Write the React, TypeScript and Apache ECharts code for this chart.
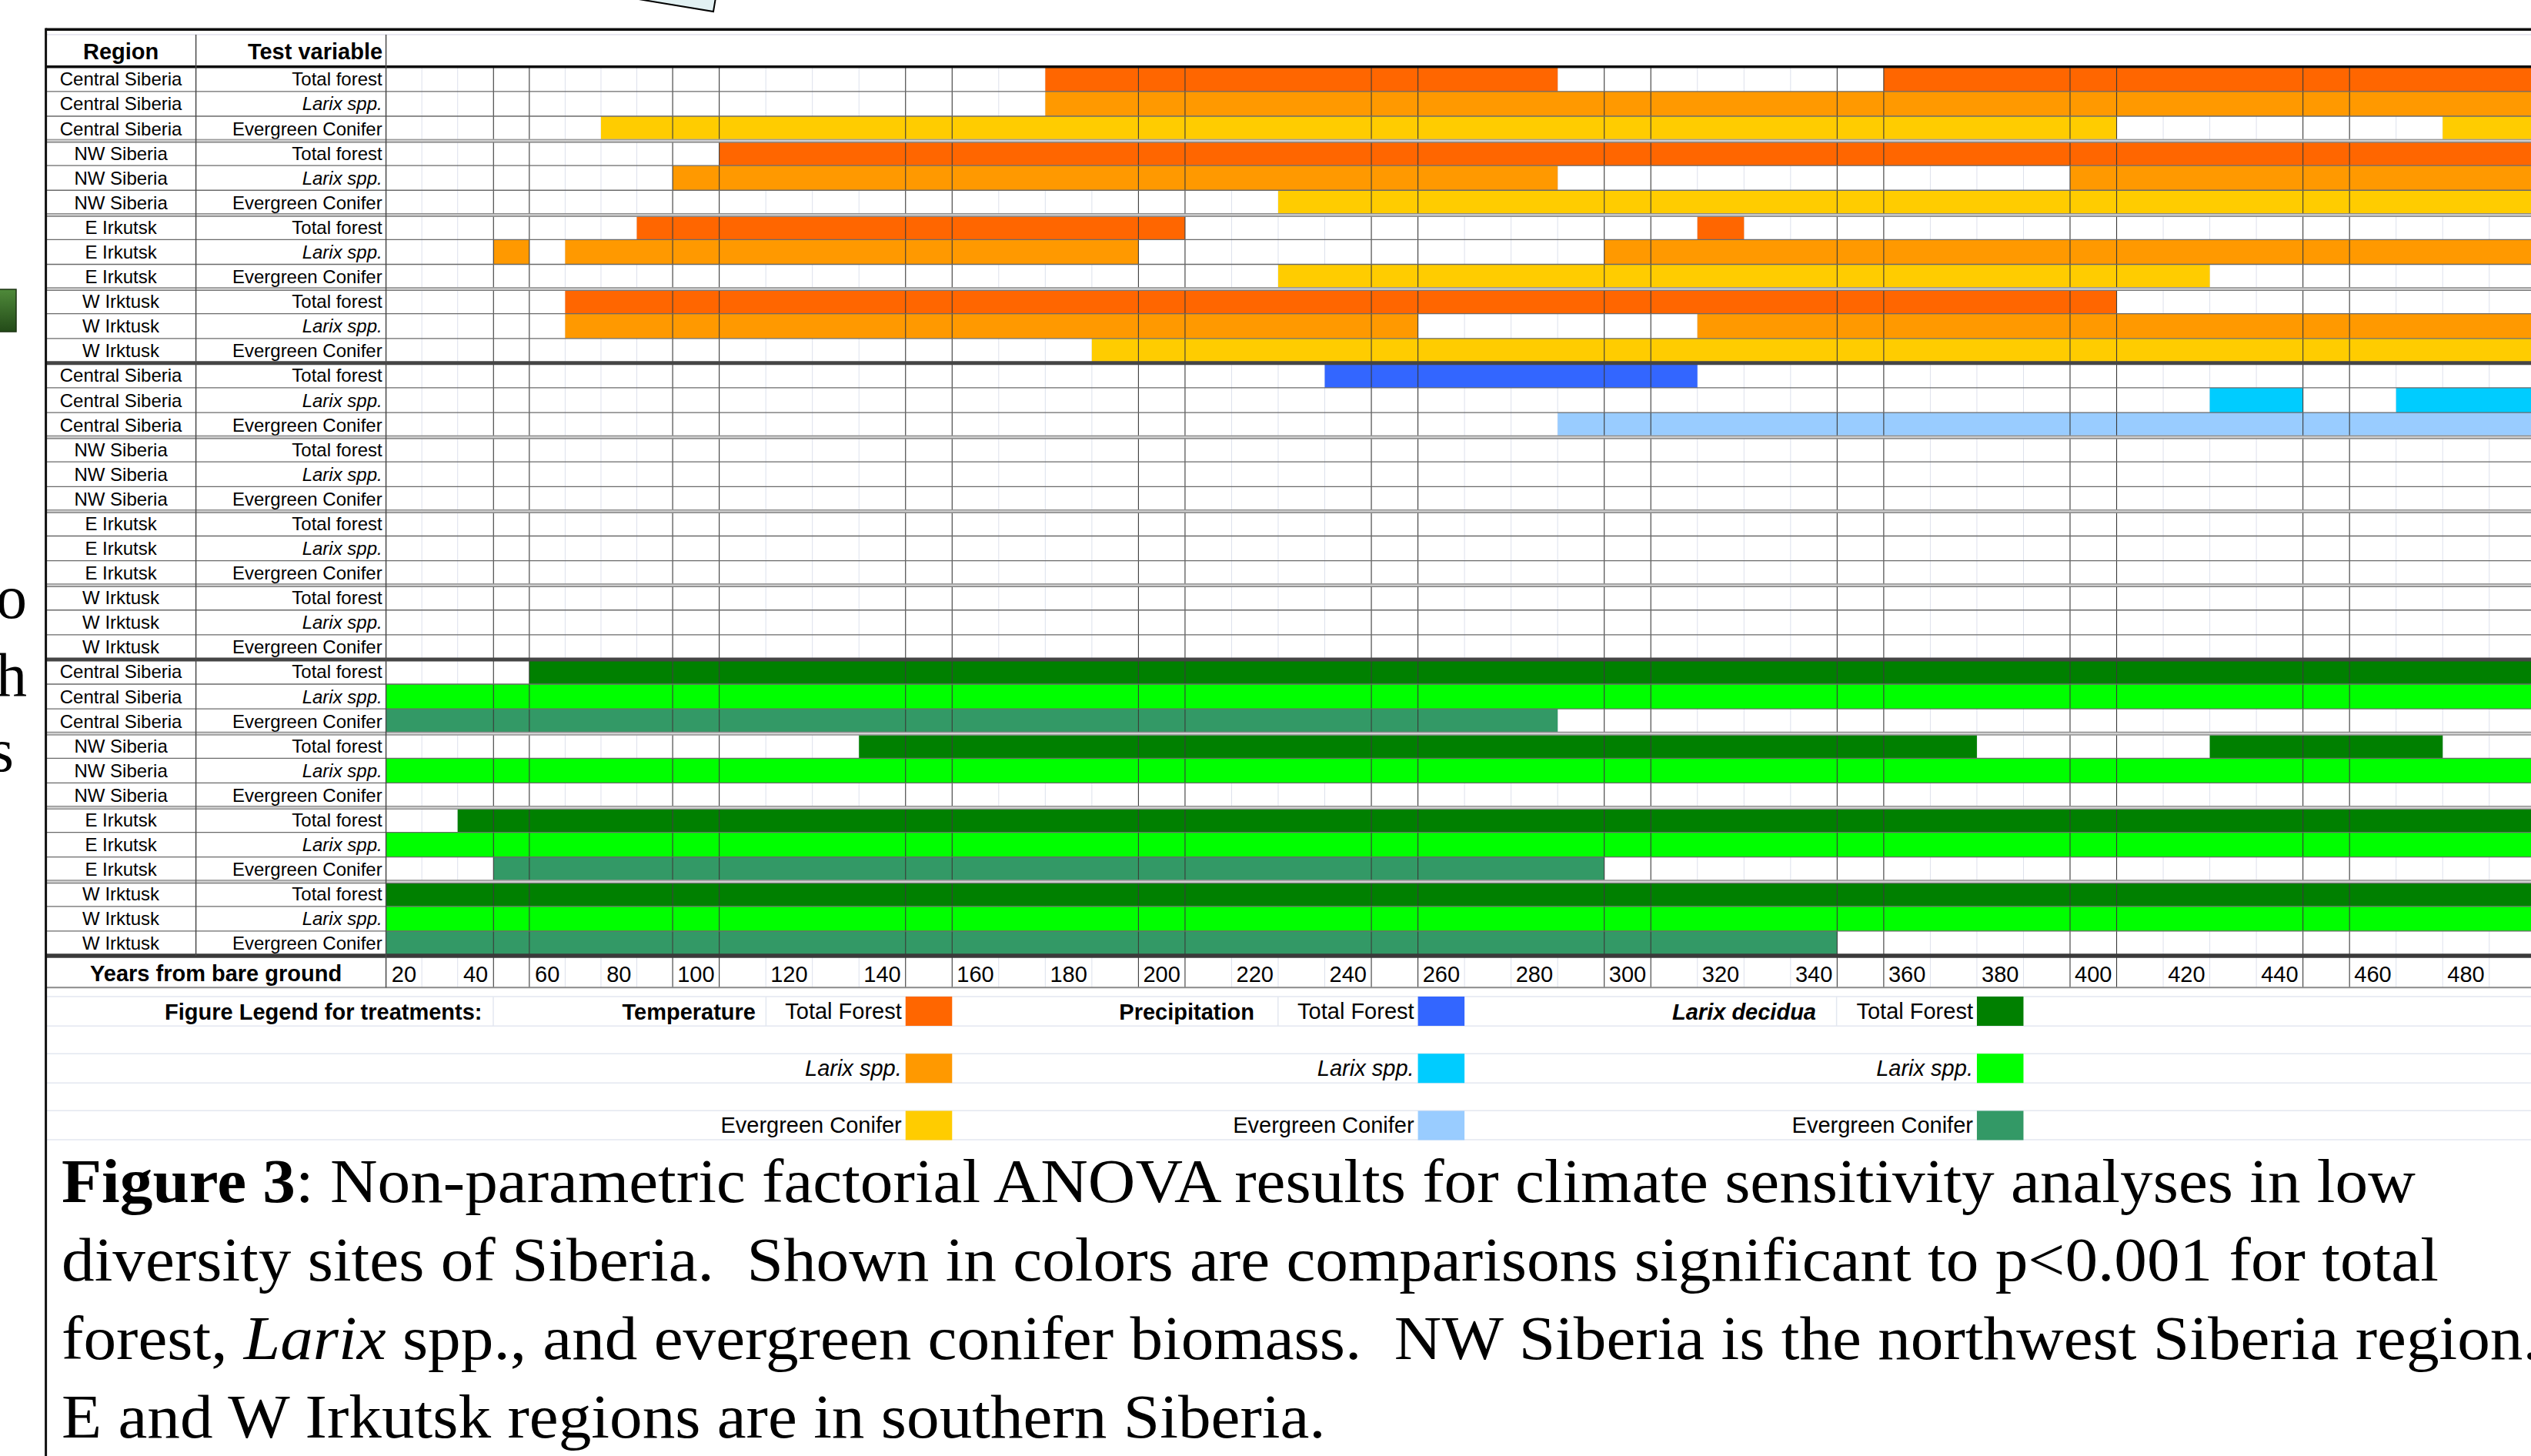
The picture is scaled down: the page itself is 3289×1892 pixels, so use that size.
import React, { useEffect, useRef } from 'react';
import * as echarts from 'echarts';

// ---------------- data ----------------
const yearsEarly = ['20', '30', '40', '50', '60', '70', '80', '90'];
const yearsLate = [
  '100', '110', '120', '130', '140', '150', '160', '170', '180', '190',
  '200', '210', '220', '230', '240', '250', '260', '270', '280', '290',
  '300', '310', '320', '330', '340', '350', '360', '370', '380', '390',
  '400', '410', '420', '430', '440', '450', '460', '470', '480', '490',
];
const regions = ['Central Siberia', 'NW Siberia', 'E Irkutsk', 'W Irktusk'];
const testVariables = ['Total forest', 'Larix spp.', 'Evergreen Conifer'];
const treatments = ['Temperature', 'Precipitation', 'Larix decidua'];
const legendVariables = ['Total Forest', 'Larix spp.', 'Evergreen Conifer'];

// significant (p<0.001) year spans [first, last] per region x test-variable row
const temperatureSpans = [
  [[180, 280], [360, 490]],
  [[180, 490]],
  [[80, 400], [480, 490]],
  [[110, 490]],
  [[100, 280], [400, 490]],
  [[230, 490]],
  [[90, 200], [320, 320]],
  [[50, 50], [70, 190], [300, 490]],
  [[230, 420]],
  [[70, 400]],
  [[70, 250], [320, 490]],
  [[190, 490]],
];
const precipitationSpans = [
  [[240, 310]],
  [[430, 440], [470, 490]],
  [[290, 490]],
  [], [], [],
  [], [], [],
  [], [], [],
];
const larixDeciduaSpans = [
  [[60, 490]],
  [[20, 490]],
  [[20, 280]],
  [[140, 370], [430, 470]],
  [[20, 490]],
  [],
  [[40, 490]],
  [[20, 490]],
  [[50, 290]],
  [[20, 490]],
  [[20, 490]],
  [[20, 340]],
];

const palette = [
  ['#ff6600', '#ff9900', '#ffcc00'],
  ['#3366ff', '#00ccff', '#99ccff'],
  ['#008000', '#00ff00', '#339966'],
];

// ---------------- layout ----------------
const W = 3289;
const H = 1892;
const SANS = 'Liberation Sans, Arial, sans-serif';
const SERIF = 'Liberation Serif, Times New Roman, serif';
const TABLE_L = 59.6;
const REGION_DIV = 254.6;
const DATA_L = 501.6;
const COL1_W = 46.5625;
const COL2_W = 60.53;
const GRID2_L = DATA_L + yearsEarly.length * COL1_W;
const GRID_TOP = 86.8;
const GRID_H = 1155.2;
const YEAR_ROW_H = 41.3;
const CAPTION_SCALE_X = 1.066;

function buildOption(): any {
  const spansByTreatment = [temperatureSpans, precipitationSpans, larixDeciduaSpans];
  const rowKeys: string[] = [];
  treatments.forEach((t) =>
    regions.forEach((r) => testVariables.forEach((v) => rowKeys.push(`${t}|${r}|${v}`)))
  );
  const seriesName = (ti: number, vi: number) => `${treatments[ti]}: ${legendVariables[vi]}`;

  const renderSpan = (params: any, api: any) => {
    const s = api.value(0);
    const e = api.value(1);
    const row = api.value(2);
    const p0 = api.coord([s, row]);
    const p1 = api.coord([e, row]);
    const size = api.size([1, 1]);
    return {
      type: 'rect',
      shape: { x: p0[0] - size[0] / 2, y: p0[1] - size[1] / 2, width: p1[0] - p0[0] + size[0], height: size[1] },
      style: { fill: api.visual('color') },
    };
  };

  const cellSeries: any[] = [];
  treatments.forEach((t, ti) =>
    legendVariables.forEach((lv, vi) => {
      const early: number[][] = [];
      const late: number[][] = [];
      regions.forEach((r, ri) => {
        const row = ti * 12 + ri * 3 + vi;
        spansByTreatment[ti][ri * 3 + vi].forEach(([a, b]) => {
          if (a < 100)
            early.push([yearsEarly.indexOf(String(a)), yearsEarly.indexOf(String(Math.min(b, 90))), row]);
          if (b >= 100)
            late.push([yearsLate.indexOf(String(Math.max(a, 100))), yearsLate.indexOf(String(b)), row]);
        });
      });
      [early, late].forEach((data, gi) =>
        cellSeries.push({
          type: 'custom',
          name: seriesName(ti, vi),
          xAxisIndex: gi,
          yAxisIndex: gi === 0 ? 0 : 2,
          itemStyle: { color: palette[ti][vi] },
          encode: { x: [0, 1], y: 2 },
          renderItem: renderSpan,
          data,
          z: 2,
          silent: true,
        })
      );
    })
  );

  const isDark = (yr: number) => yr % 50 === 0 || (yr - 10) % 50 === 0;
  const light1: number[][] = [], dark1: number[][] = [], light2: number[][] = [], dark2: number[][] = [];
  yearsEarly.forEach((y, k) => {
    if (k === 0) return;
    (isDark(+y) ? dark1 : light1).push([k, 0]);
  });
  yearsLate.forEach((y, k) => {
    (isDark(+y) ? dark2 : light2).push([k, 0]);
  });
  const vline = (color: string, width: number) => (params: any, api: any) => {
    const k = api.value(0);
    const c = api.coord([k, 0]);
    const bw = api.size([1, 1])[0];
    const x = c[0] - bw / 2;
    const cs = params.coordSys;
    return {
      type: 'line',
      shape: { x1: x, y1: cs.y, x2: x, y2: cs.y + cs.height + YEAR_ROW_H },
      style: { stroke: color, lineWidth: width },
    };
  };
  const lineSeries = (data: number[][], gi: number, color: string, width: number, z: number) => ({
    type: 'custom',
    xAxisIndex: gi,
    yAxisIndex: gi === 0 ? 0 : 2,
    encode: { x: 0, y: 1 },
    renderItem: vline(color, width),
    data,
    z,
    silent: true,
  });

  const boundaries: number[][] = [];
  for (let k = 0; k <= 37; k++) boundaries.push([0, 0, k]);
  const hlines = (params: any, api: any) => {
    const k = api.value(2);
    const bh = api.size([1, 1])[1];
    let y: number;
    if (k <= 35) y = api.coord([0, k])[1] - bh / 2;
    else y = api.coord([0, 35])[1] + bh / 2 + (k === 37 ? YEAR_ROW_H : 0);
    const x1 = TABLE_L;
    const x2 = W + 10;
    const line = (yy: number, color: string, w: number) => ({
      type: 'line',
      shape: { x1, y1: yy, x2, y2: yy },
      style: { stroke: color, lineWidth: w },
    });
    const band = (h: number, color: string) => ({
      type: 'rect',
      shape: { x: x1, y: y - h / 2, width: x2 - x1, height: h },
      style: { fill: color },
    });
    if (k === 0) return band(3.6, '#0a0a0a');
    if (k === 36) return band(5.5, '#3a3a3a');
    if (k === 37) return line(y, '#8a8a8a', 2);
    if (k % 12 === 0) return band(5, '#454545');
    if (k % 3 === 0)
      return {
        type: 'group',
        children: [band(4.6, '#d0d0d0'), line(y - 1.8, '#8a8a8a', 1.2), line(y + 1.8, '#777777', 1.2)],
      };
    return line(y, '#6a6a6a', 1.3);
  };

  const labelStyle = { color: '#000', fontFamily: SANS };
  const swatchRight = [GRID2_L + 6 * COL2_W, GRID2_L + 17 * COL2_W, GRID2_L + 29 * COL2_W];

  const legends = treatments.map((t, ti) => ({
    orient: 'vertical',
    align: 'right',
    right: W - swatchRight[ti],
    top: 1295,
    padding: 0,
    itemWidth: COL2_W,
    itemHeight: 38,
    itemGap: 36.2,
    icon: 'rect',
    selectedMode: false,
    data: legendVariables.map((v, vi) => seriesName(ti, vi)),
    formatter: (name: string) => {
      const v = name.split(': ')[1];
      return v === 'Larix spp.' ? '{i|Larix spp.}' : v;
    },
    textStyle: {
      ...labelStyle,
      fontSize: 29,
      rich: { i: { ...labelStyle, fontSize: 29, fontStyle: 'italic' } },
    },
  }));

  const txt = (text: string, x: number, y: number, opts: any = {}, extra: any = {}) => ({
    type: 'text',
    x,
    y,
    z: 20,
    silent: true,
    ...extra,
    style: {
      text,
      fill: '#000',
      fontFamily: SANS,
      fontSize: 29,
      verticalAlign: 'middle',
      align: 'left',
      ...opts,
    },
  });
  const gline = (x1: number, y1: number, x2: number, y2: number, stroke: string, lineWidth: number, z = 15) => ({
    type: 'line',
    z,
    silent: true,
    shape: { x1, y1, x2, y2 },
    style: { stroke, lineWidth },
  });

  const legendLineYs = [1295, 1333.3, 1369.3, 1407.3, 1443.3, 1481];
  const captionRich = {
    b: { fontFamily: SERIF, fontSize: 80, fontWeight: 'bold', fill: '#000' },
    i: { fontFamily: SERIF, fontSize: 80, fontStyle: 'italic', fill: '#000' },
  };
  const cap = (text: string, y: number) =>
    txt(text, 80, y, { fontFamily: SERIF, fontSize: 80, rich: captionRich }, { scaleX: CAPTION_SCALE_X });

  const graphic: any[] = [
    // fragments of neighbouring page content
    {
      type: 'polygon',
      z: 20,
      silent: true,
      shape: { points: [[818, -3], [927, 15], [930, -3]] },
      style: { fill: '#e2f1f3', stroke: '#000', lineWidth: 2 },
    },
    {
      type: 'rect',
      z: 20,
      silent: true,
      shape: { x: -3, y: 376, width: 24, height: 55 },
      style: {
        fill: new echarts.graphic.LinearGradient(0, 0, 0, 1, [
          { offset: 0, color: '#4f8a3a' },
          { offset: 1, color: '#234a18' },
        ]),
        stroke: '#1b3312',
        lineWidth: 1.5,
      },
    },
    txt('o', 35, 776, { fontFamily: SERIF, fontSize: 80, align: 'right' }),
    txt('h', 35, 877, { fontFamily: SERIF, fontSize: 80, align: 'right' }),
    txt('s', 18, 975, { fontFamily: SERIF, fontSize: 80, align: 'right' }),
    // table frame
    { type: 'rect', z: 15, silent: true, shape: { x: TABLE_L, y: 36.5, width: W, height: 3.6 }, style: { fill: '#0d0d0d' } },
    gline(TABLE_L, 45, W + 10, 45, '#e2e0ec', 1.5),
    gline(TABLE_L, 36.5, TABLE_L, H + 5, '#111', 3, 16),
    gline(REGION_DIV, 45, REGION_DIV, GRID_TOP + GRID_H, '#4a4a4a', 1.5),
    gline(DATA_L, 45, DATA_L, GRID_TOP + GRID_H + YEAR_ROW_H, '#4a4a4a', 1.5),
    txt('Region', (TABLE_L + REGION_DIV) / 2, 66.5, { fontWeight: 'bold', align: 'center' }),
    txt('Test variable', DATA_L - 4.5, 66.5, { fontWeight: 'bold', align: 'right' }),
    txt('Years from bare ground', (TABLE_L + DATA_L) / 2, 1265, { fontWeight: 'bold', align: 'center' }),
    // legend table
    ...legendLineYs.map((y) => gline(TABLE_L, y, W + 10, y, '#e3e7f0', 1.5, 1)),
    ...[641, 995.4, 1660.8, 2386.6].map((x) => gline(x, 1295, x, 1333.3, '#e3e7f0', 1.5, 1)),
    txt('Figure Legend for treatments:', 626.5, 1315, { fontWeight: 'bold', align: 'right' }),
    txt('Temperature', 982, 1315, { fontWeight: 'bold', align: 'right' }),
    txt('Precipitation', 1630, 1315, { fontWeight: 'bold', align: 'right' }),
    txt('Larix decidua', 2360, 1315, { fontWeight: 'bold', fontStyle: 'italic', align: 'right' }),
    // caption
    cap('{b|Figure 3}: Non-parametric factorial ANOVA results for climate sensitivity analyses in low', 1535),
    cap('diversity sites of Siberia.  Shown in colors are comparisons significant to p<0.001 for total', 1637),
    cap('forest, {i|Larix} spp., and evergreen conifer biomass.  NW Siberia is the northwest Siberia region.', 1739),
    cap('E and W Irkutsk regions are in southern Siberia.', 1841),
  ];

  const hiddenAxisParts = {
    axisLine: { show: false },
    axisTick: { show: false },
    splitLine: { show: false },
  };
  const xLabel = { ...labelStyle, fontSize: 29, interval: 1, margin: 9.5 };

  return {
    animation: false,
    backgroundColor: '#ffffff',
    textStyle: { fontFamily: SANS },
    grid: [
      { left: DATA_L, top: GRID_TOP, width: yearsEarly.length * COL1_W, height: GRID_H, containLabel: false, outerBoundsMode: 'none' },
      { left: GRID2_L, top: GRID_TOP, width: yearsLate.length * COL2_W, height: GRID_H, containLabel: false, outerBoundsMode: 'none' },
    ],
    xAxis: [
      { type: 'category', gridIndex: 0, data: yearsEarly, position: 'bottom', ...hiddenAxisParts, axisLabel: xLabel },
      { type: 'category', gridIndex: 1, data: yearsLate, position: 'bottom', ...hiddenAxisParts, axisLabel: xLabel },
    ],
    yAxis: [
      {
        type: 'category',
        gridIndex: 0,
        inverse: true,
        data: rowKeys,
        ...hiddenAxisParts,
        axisLabel: {
          ...labelStyle,
          fontSize: 24,
          interval: 0,
          margin: 4.9,
          align: 'right',
          formatter: (val: string) => {
            const v = val.split('|')[2];
            return v === 'Larix spp.' ? '{i|Larix spp.}' : v;
          },
          rich: { i: { ...labelStyle, fontSize: 24, fontStyle: 'italic' } },
        },
      },
      {
        type: 'category',
        gridIndex: 0,
        inverse: true,
        data: rowKeys,
        position: 'left',
        offset: DATA_L - (TABLE_L + REGION_DIV) / 2,
        ...hiddenAxisParts,
        axisLabel: {
          ...labelStyle,
          fontSize: 24,
          interval: 0,
          margin: 0,
          align: 'center',
          formatter: (val: string) => val.split('|')[1],
        },
      },
      { type: 'category', gridIndex: 1, inverse: true, data: rowKeys, ...hiddenAxisParts, axisLabel: { show: false } },
    ],
    legend: legends,
    graphic,
    series: [
      lineSeries(light1, 0, '#dde1ec', 1, 1),
      lineSeries(light2, 1, '#dde1ec', 1, 1),
      ...cellSeries,
      lineSeries(dark1, 0, '#3a3a3a', 1.1, 3),
      lineSeries(dark2, 1, '#3a3a3a', 1.1, 3),
      {
        type: 'custom',
        xAxisIndex: 1,
        yAxisIndex: 2,
        encode: { x: 0, y: 1 },
        renderItem: hlines,
        data: boundaries,
        z: 4,
        silent: true,
      },
    ],
  };
}

export default function App() {
  const ref = useRef<HTMLDivElement>(null);
  useEffect(() => {
    document.documentElement.style.overflow = 'hidden';
    document.body.style.overflow = 'hidden';
    const chart = echarts.init(ref.current as HTMLDivElement, null, { renderer: 'svg' });
    chart.setOption(buildOption());
    return () => chart.dispose();
  }, []);
  return (
    <div
      ref={ref}
      style={{ position: 'fixed', left: 0, top: 0, width: W, height: H, background: '#fff' }}
    />
  );
}
